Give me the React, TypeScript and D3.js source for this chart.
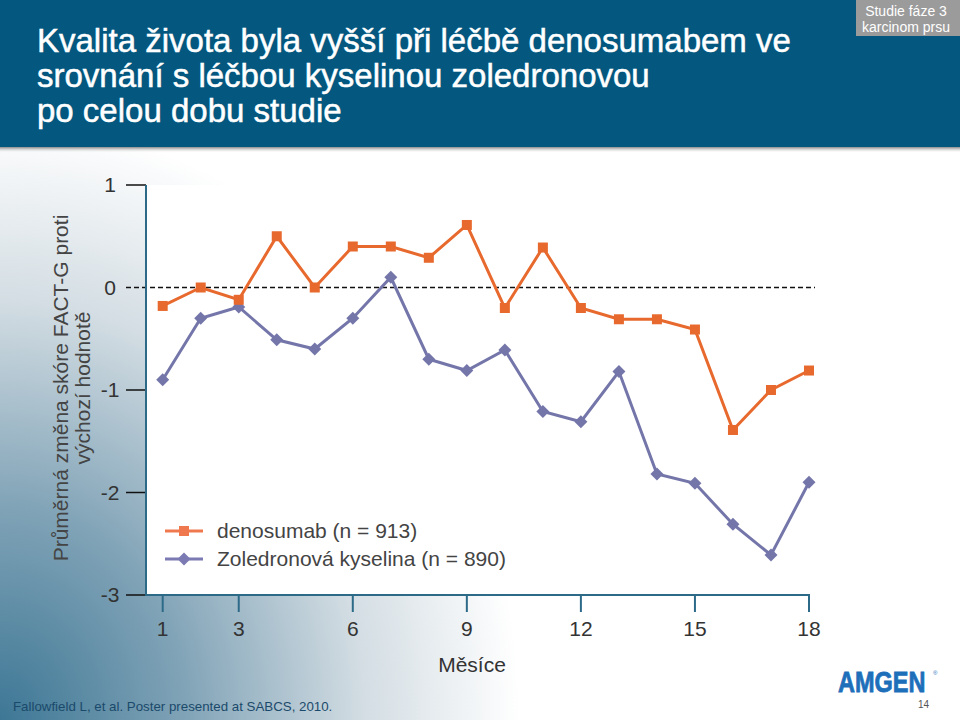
import React from "react";
import * as d3 from "d3";

const months = [1, 2, 3, 4, 5, 6, 7, 8, 9, 10, 11, 12, 13, 14, 15, 16, 17, 18];
const denosumab = [-0.18, 0, -0.12, 0.5, 0, 0.4, 0.4, 0.29, 0.61, -0.2, 0.39, -0.2, -0.31, -0.31, -0.41, -1.39, -1.0, -0.81];
const zoledronic = [-0.9, -0.3, -0.19, -0.51, -0.6, -0.3, 0.1, -0.7, -0.81, -0.61, -1.21, -1.31, -0.82, -1.82, -1.91, -2.31, -2.61, -1.9];
const xTicks = [1, 3, 6, 9, 12, 15, 18];
const yTicks = [1, 0, -1, -2, -3];
const titleLines = [
  "Kvalita života byla vyšší při léčbě denosumabem ve",
  "srovnání s léčbou kyselinou zoledronovou",
  "po celou dobu studie",
];
const seriesLabels = ["denosumab (n = 913)", "Zoledronová kyselina (n = 890)"];

const FONT = "'Liberation Sans', Arial, sans-serif";
const ORANGE = "#E8692D";
const PURPLE = "#7476AA";
const AXIS = "#2C6A88";

export default function App() {
  const x = d3.scaleLinear().domain([1, 18]).range([162.7, 809]);
  const y = d3.scaleLinear().domain([-3, 1]).range([595, 185]);
  const line = d3
    .line<number>()
    .x((_, i) => x(months[i]))
    .y((d) => y(d));

  const diamond = (cx: number, cy: number, r: number) =>
    `M${cx},${cy - r}L${cx + r},${cy}L${cx},${cy + r}L${cx - r},${cy}Z`;

  return (
    <svg
      width={960}
      height={720}
      style={{ position: "absolute", left: 0, top: 0, fontFamily: FONT }}
    >
      <defs>
        <radialGradient id="bg" cx="0" cy="720" r="520" gradientUnits="userSpaceOnUse" gradientTransform="translate(0,720) scale(1,1.15) translate(0,-720)">
          <stop offset="0" stopColor="#3d7795" />
          <stop offset="0.35" stopColor="#7fa2b6" />
          <stop offset="0.7" stopColor="#d3dde3" />
          <stop offset="1" stopColor="#ffffff" />
        </radialGradient>
        <linearGradient id="shadow" x1="0" y1="0" x2="0" y2="1">
          <stop offset="0" stopColor="#8a8a8a" />
          <stop offset="1" stopColor="#ffffff" stopOpacity="0" />
        </linearGradient>
      </defs>
      <rect x={0} y={0} width={960} height={720} fill="#ffffff" />
      <rect x={0} y={0} width={960} height={720} fill="url(#bg)" />
      {/* header */}
      <rect x={0} y={0} width={960} height={147} fill="#04587F" />
      <rect x={0} y={147} width={960} height={6} fill="url(#shadow)" />
      {titleLines.map((t, i) => (
        <text key={i} x={37} y={52 + i * 35} fill="#ffffff" stroke="#ffffff" strokeWidth={0.5} fontSize={33}>
          {t}
        </text>
      ))}
      <rect x={856} y={0} width={104} height={36} fill="#9B9B9B" />
      <text x={906} y={16} fill="#ffffff" fontSize={14} textAnchor="middle">Studie fáze 3</text>
      <text x={906} y={32} fill="#ffffff" fontSize={14} textAnchor="middle">karcinom prsu</text>

      {/* plot area background */}
      <rect x={146} y={185} width={690} height={410} fill="#ffffff" />

      {/* y ticks */}
      {yTicks.map((t) => (
        <g key={t}>
          {t !== 0 && (
            <line x1={126} x2={146} y1={y(t)} y2={y(t)} stroke="#111" strokeWidth={1.5} />
          )}
          <text x={110} y={y(t) + 7} fontSize={21} fill="#333" textAnchor="middle">
            {t < 0 ? "-" + Math.abs(t) : String(t)}
          </text>
        </g>
      ))}
      <line x1={126} x2={815} y1={y(0)} y2={y(0)} stroke="#111" strokeWidth={1.5} strokeDasharray="5,3" />
      <line x1={146} x2={146} y1={185} y2={595} stroke={AXIS} strokeWidth={2} />
      <line x1={145} x2={x(18) + 1} y1={595} y2={595} stroke={AXIS} strokeWidth={2} />
      {xTicks.map((t) => (
        <g key={t}>
          <line x1={x(t)} x2={x(t)} y1={595} y2={612} stroke={AXIS} strokeWidth={2} />
          <text x={x(t)} y={636} fontSize={21} fill="#333" textAnchor="middle">{t}</text>
        </g>
      ))}
      <text x={472} y={672} fontSize={21} fill="#333" textAnchor="middle">Měsíce</text>
      <text transform="translate(68,388) rotate(-90)" fontSize={21} fill="#444" textAnchor="middle">
        Průměrná změna skóre FACT-G proti
      </text>
      <text transform="translate(90,388) rotate(-90)" fontSize={21} fill="#444" textAnchor="middle">
        výchozí hodnotě
      </text>

      {/* series */}
      <path d={line(zoledronic) || ""} fill="none" stroke={PURPLE} strokeWidth={3} />
      <path d={line(denosumab) || ""} fill="none" stroke={ORANGE} strokeWidth={3} />
      {zoledronic.map((v, i) => (
        <path key={"z" + i} d={diamond(x(months[i]), y(v), 6.5)} fill={PURPLE} />
      ))}
      {denosumab.map((v, i) => (
        <rect key={"d" + i} x={x(months[i]) - 5} y={y(v) - 5} width={10} height={10} fill={ORANGE} />
      ))}

      {/* legend */}
      <line x1={165} x2={203} y1={531} y2={531} stroke="#F0784E" strokeWidth={3} />
      <rect x={179} y={526} width={10} height={10} fill="#F0784E" />
      <text x={217} y={538} fontSize={21} fill="#444">{seriesLabels[0]}</text>
      <line x1={165} x2={203} y1={559} y2={559} stroke="#7B7AB2" strokeWidth={3} />
      <path d={diamond(184, 559, 6.5)} fill="#7B7AB2" />
      <text x={217} y={566} fontSize={21} fill="#444">{seriesLabels[1]}</text>

      {/* footer */}
      <text x={13} y={711} fontSize={13.3} fill="#1B4A6B">Fallowfield L, et al. Poster presented at SABCS, 2010.</text>
      <text transform="translate(838,692) scale(0.81,1)" fontSize={29} fontWeight="bold" fill="#1E6FBA" stroke="#1E6FBA" strokeWidth={0.8}>AMGEN</text>
      <text x={933} y={675} fontSize={6} fill="#1E6FBA">®</text>
      <text x={918} y={708} fontSize={10} fill="#555">14</text>
    </svg>
  );
}
